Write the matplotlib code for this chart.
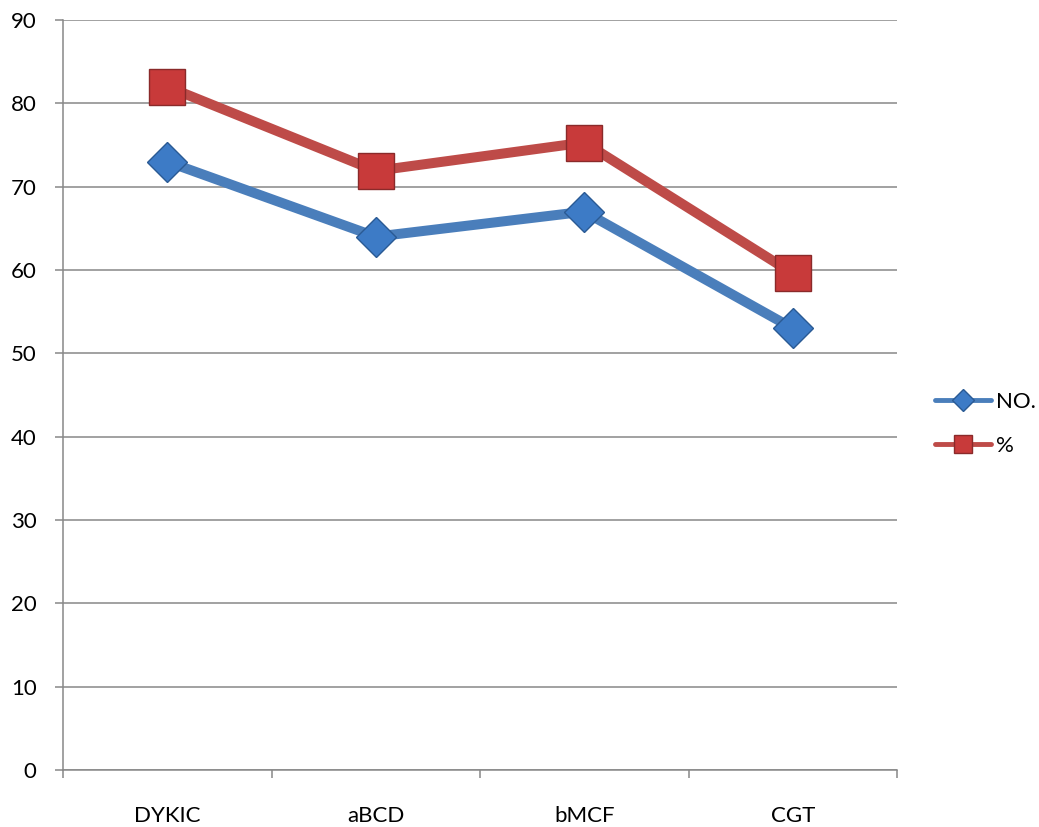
import matplotlib.pyplot as plt
from matplotlib.lines import Line2D
from matplotlib.ticker import FixedLocator

plt.rcParams['font.family'] = ['Lato', 'DejaVu Sans']

# Counts and percentages per group
categories = ['DYKIC', 'aBCD', 'bMCF', 'CGT']
counts = [73, 64, 67, 53]
percents = [82.0, 71.9, 75.3, 59.6]
y_ticks = [0, 10, 20, 30, 40, 50, 60, 70, 80, 90]

grid_grey = '#888888'
blue_line, blue_face, blue_edge = '#4a7ebb', '#3d7bc6', '#2a5a94'
red_line, red_face, red_edge = '#be4b48', '#c83a3a', '#8a2a2a'

fig = plt.figure(figsize=(10.39, 8.27), dpi=100)
ax = fig.add_axes([63 / 1039, 1 - 770 / 827, (897 - 63) / 1039, (770 - 20) / 827])

x = list(range(len(categories)))
ax.plot(x, counts, color=blue_line, lw=7.2, marker='D', ms=20,
        markerfacecolor=blue_face, markeredgecolor=blue_edge, markeredgewidth=1,
        solid_capstyle='round', zorder=3)
ax.plot(x, percents, color=red_line, lw=7.2, marker='s', ms=26,
        markerfacecolor=red_face, markeredgecolor=red_edge, markeredgewidth=1,
        solid_capstyle='round', zorder=4)

ax.set_xlim(-0.5, len(categories) - 0.5)
ax.set_ylim(0, 90)
ax.set_yticks(y_ticks)
ax.set_xticks(x)
ax.set_xticklabels(categories)
ax.xaxis.set_minor_locator(FixedLocator([i - 0.5 for i in range(len(categories) + 1)]))

ax.grid(axis='y', color=grid_grey, lw=1.1)
ax.set_axisbelow(True)
for side in ['top', 'right']:
    ax.spines[side].set_visible(False)
for side in ['left', 'bottom']:
    ax.spines[side].set_color(grid_grey)
    ax.spines[side].set_linewidth(1.1)

ax.tick_params(axis='y', direction='out', length=6, width=1.1, color=grid_grey,
               pad=13, labelsize=16)
ax.tick_params(axis='x', which='major', length=0, pad=26, labelsize=16)
ax.tick_params(axis='x', which='minor', direction='out', length=6, width=1.1,
               color=grid_grey)

# Legend with smaller markers than the plotted points
handles = [
    Line2D([], [], color=blue_line, lw=3.5, marker='D', ms=11,
           markerfacecolor=blue_face, markeredgecolor=blue_edge, solid_capstyle='round'),
    Line2D([], [], color=red_line, lw=3.5, marker='s', ms=13,
           markerfacecolor=red_face, markeredgecolor=red_edge, solid_capstyle='round'),
]
fig.legend(handles, ['NO.', '%'], loc='center left',
           bbox_to_anchor=(935 / 1039, 1 - 424 / 827), frameon=False,
           fontsize=16, handlelength=2.5, handletextpad=0.25, labelspacing=1.1,
           borderpad=0, borderaxespad=0)

fig.savefig('out.png', dpi=100)
